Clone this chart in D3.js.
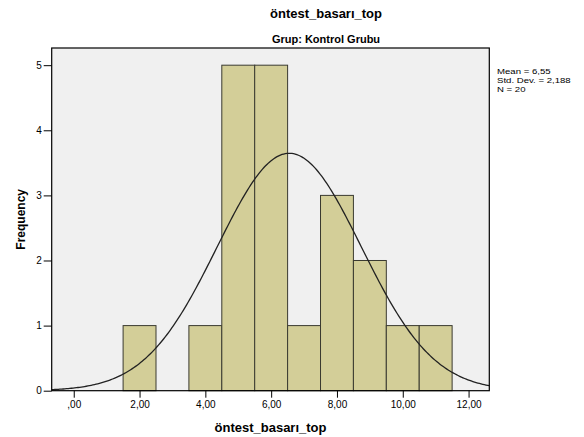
<!DOCTYPE html>
<html lang="tr">
<head>
<meta charset="utf-8">
<title>öntest_basarı_top</title>
<script src="https://d3js.org/d3.v7.min.js"></script>
<style>
  body { margin: 0; background: #fff; }
  text { font-family: "Liberation Sans", Arial, sans-serif; fill: #000; }
</style>
</head>
<body>
<script>
// histogram bins (width 1) and counts
var binStart = [1.5, 3.5, 4.5, 5.5, 6.5, 7.5, 8.5, 9.5, 10.5];
var counts   = [1,   1,   5,   5,   1,   3,   2,   1,   1];

var xTicks      = [0, 2, 4, 6, 8, 10, 12];
var xTickLabels = [",00", "2,00", "4,00", "6,00", "8,00", "10,00", "12,00"];
var yTicks      = [0, 1, 2, 3, 4, 5];

var mean = 6.55, sd = 2.188, n = 20;
var statLines = ["Mean = 6,55", "Std. Dev. = 2,188", "N = 20"];

var width = 584, height = 437;
var plotLeft = 51.7, plotRight = 489.3, plotTop = 48, plotBottom = 390.7;

var svg = d3.select("body").append("svg")
    .attr("width", width)
    .attr("height", height);

var x = d3.scaleLinear().domain([-0.67, 12.63]).range([plotLeft, plotRight]);
var y = d3.scaleLinear().domain([0, 5.264]).range([plotBottom, plotTop]);

// plot background
svg.append("rect")
    .attr("x", plotLeft).attr("y", plotTop)
    .attr("width", plotRight - plotLeft).attr("height", plotBottom - plotTop)
    .attr("fill", "#f0f0f0");

// bars
svg.append("g").selectAll("rect")
    .data(counts)
    .join("rect")
    .attr("x", (d, i) => x(binStart[i]))
    .attr("y", d => y(d))
    .attr("width", (d, i) => x(binStart[i] + 1) - x(binStart[i]))
    .attr("height", d => y(0) - y(d))
    .attr("fill", "#d3ce98")
    .attr("stroke", "#3a3a30")
    .attr("stroke-width", 1);

// normal curve scaled to counts (bin width 1)
var curveX = d3.range(x.domain()[0], x.domain()[1] + 0.001, 0.05);
var normal = v => n * Math.exp(-0.5 * Math.pow((v - mean) / sd, 2)) / (sd * Math.sqrt(2 * Math.PI));
svg.append("path")
    .datum(curveX)
    .attr("fill", "none")
    .attr("stroke", "#222")
    .attr("stroke-width", 1.3)
    .attr("d", d3.line().x(d => x(d)).y(d => y(normal(d))));

// frame
svg.append("rect")
    .attr("x", plotLeft).attr("y", plotTop)
    .attr("width", plotRight - plotLeft).attr("height", plotBottom - plotTop)
    .attr("fill", "none")
    .attr("stroke", "#000")
    .attr("stroke-width", 1.2);

// y axis
var yAxis = svg.append("g")
    .attr("transform", "translate(" + plotLeft + ",0)")
    .call(d3.axisLeft(y).tickValues(yTicks).tickSize(8).tickPadding(2).tickFormat(d3.format("d")));
yAxis.select(".domain").remove();
yAxis.selectAll("text").attr("font-size", 10).style("font-family", "'Liberation Sans', Arial, sans-serif");

// x axis
var xAxis = svg.append("g")
    .attr("transform", "translate(0," + plotBottom + ")")
    .call(d3.axisBottom(x).tickValues(xTicks).tickSize(7).tickPadding(3)
        .tickFormat((d, i) => xTickLabels[i]));
xAxis.select(".domain").remove();
xAxis.selectAll("text").attr("font-size", 10).style("font-family", "'Liberation Sans', Arial, sans-serif");

// titles
svg.append("text")
    .attr("x", 326).attr("y", 18)
    .attr("text-anchor", "middle")
    .attr("font-size", 13).attr("font-weight", "bold")
    .text("öntest_basarı_top");

svg.append("text")
    .attr("x", 326).attr("y", 43)
    .attr("text-anchor", "middle")
    .attr("font-size", 11).attr("font-weight", "bold")
    .text("Grup: Kontrol Grubu");

svg.append("text")
    .attr("x", (plotLeft + plotRight) / 2).attr("y", 432)
    .attr("text-anchor", "middle")
    .attr("font-size", 13).attr("font-weight", "bold")
    .text("öntest_basarı_top");

svg.append("text")
    .attr("transform", "translate(25," + (plotTop + plotBottom) / 2 + ") rotate(-90)")
    .attr("text-anchor", "middle")
    .attr("font-size", 12).attr("font-weight", "bold")
    .text("Frequency");

// stats legend (SPSS renders it short and wide)
svg.append("g")
    .attr("transform", "translate(497,0) scale(1.2,1)")
    .selectAll("text")
    .data(statLines)
    .join("text")
    .attr("x", 0)
    .attr("y", (d, i) => 74 + i * 9)
    .attr("font-size", 8)
    .text(d => d);
</script>
</body>
</html>
